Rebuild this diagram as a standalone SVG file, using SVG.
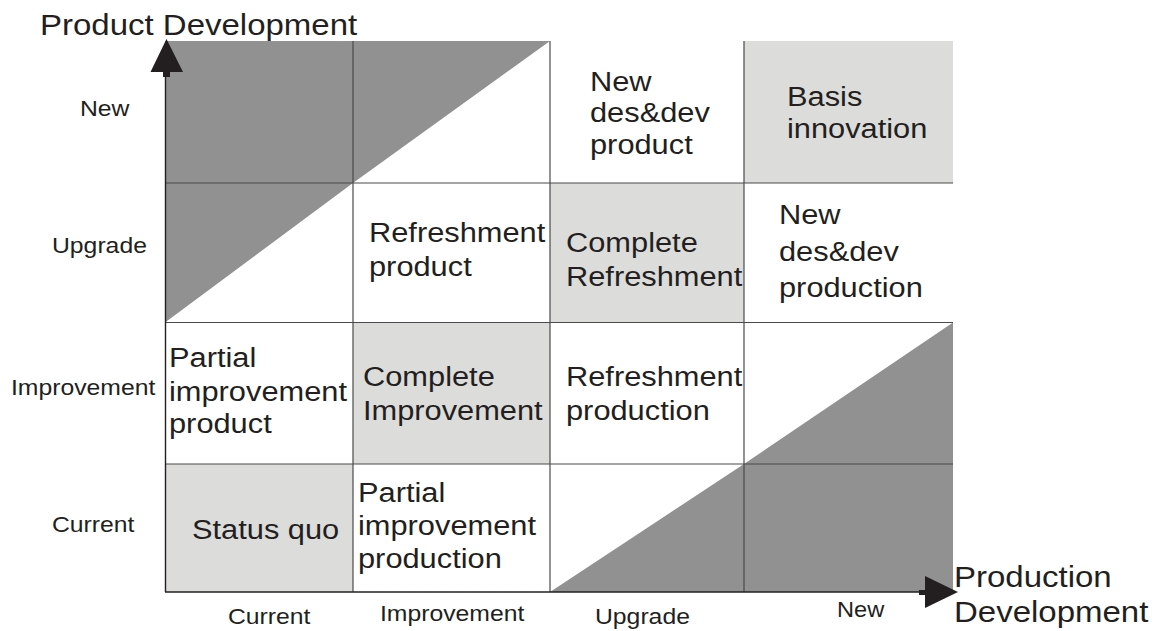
<svg xmlns="http://www.w3.org/2000/svg" width="1156" height="631" viewBox="0 0 1156 631">
  <style>
    .txt { font-family: "Liberation Sans", Arial, sans-serif; fill: #231f20; }
    .cell { font-size: 28px; }
    .axis { font-size: 22.5px; }
    .title { font-size: 30px; }
    .light { fill: #dcdcdb; }
    .dark { fill: #919191; }
    .grid { stroke: #4a4a4a; stroke-width: 1.2; fill: none; }
    .axisline { stroke: #231f20; stroke-width: 1.4; fill: none; }
    .head { fill: #231f20; }
  </style>

  <rect width="1156" height="631" fill="#ffffff"/>

  <!-- shaded cells -->
  <g id="shading">
    <rect class="light" x="744" y="41" width="209" height="142"/>
    <rect class="light" x="550" y="183" width="194" height="139.5"/>
    <rect class="light" x="353" y="322.5" width="197" height="141.5"/>
    <rect class="light" x="165" y="464" width="188" height="128"/>
    <!-- excluded combinations, top left -->
    <polygon class="dark" points="165,41 550,41 353,183 165,322.5"/>
    <!-- excluded combinations, bottom right -->
    <polygon class="dark" points="953,322.5 953,592 550,592 744,464"/>
  </g>

  <!-- grid -->
  <g id="grid" class="grid">
    <line x1="353" y1="41" x2="353" y2="592"/>
    <line x1="550" y1="41" x2="550" y2="592"/>
    <line x1="744" y1="41" x2="744" y2="592"/>
    <line x1="165" y1="183" x2="953" y2="183"/>
    <line x1="165" y1="322.5" x2="953" y2="322.5"/>
    <line x1="165" y1="464" x2="953" y2="464"/>
  </g>

  <!-- cell labels -->
  <g id="cell-new-product">
    <text class="txt cell" transform="matrix(1.1 0 0 1 590 91)"><tspan x="0" y="0">New</tspan><tspan x="0" y="31.5">des&amp;dev</tspan><tspan x="0" y="63">product</tspan></text>
  </g>
  <g id="cell-basis-innovation">
    <text class="txt cell" transform="matrix(1.1 0 0 1 787 106)"><tspan x="0" y="0">Basis</tspan><tspan x="0" y="32">innovation</tspan></text>
  </g>
  <g id="cell-refreshment-product">
    <text class="txt cell" transform="matrix(1.1 0 0 1 369 242)"><tspan x="0" y="0">Refreshment</tspan><tspan x="0" y="34">product</tspan></text>
  </g>
  <g id="cell-complete-refreshment">
    <text class="txt cell" transform="matrix(1.1 0 0 1 566 252)"><tspan x="0" y="0">Complete</tspan><tspan x="0" y="34">Refreshment</tspan></text>
  </g>
  <g id="cell-new-production">
    <text class="txt cell" transform="matrix(1.1 0 0 1 779 224)"><tspan x="0" y="0">New</tspan><tspan x="0" y="37">des&amp;dev</tspan><tspan x="0" y="73">production</tspan></text>
  </g>
  <g id="cell-partial-product">
    <text class="txt cell" transform="matrix(1.1 0 0 1 169 367)"><tspan x="0" y="0">Partial</tspan><tspan x="0" y="34">improvement</tspan><tspan x="0" y="66">product</tspan></text>
  </g>
  <g id="cell-complete-improvement">
    <text class="txt cell" transform="matrix(1.1 0 0 1 363 386)"><tspan x="0" y="0">Complete</tspan><tspan x="0" y="34">Improvement</tspan></text>
  </g>
  <g id="cell-refreshment-production">
    <text class="txt cell" transform="matrix(1.1 0 0 1 566 386)"><tspan x="0" y="0">Refreshment</tspan><tspan x="0" y="34">production</tspan></text>
  </g>
  <g id="cell-status-quo">
    <text class="txt cell" transform="matrix(1.1 0 0 1 192 539)">Status quo</text>
  </g>
  <g id="cell-partial-production">
    <text class="txt cell" transform="matrix(1.1 0 0 1 358 502)"><tspan x="0" y="0">Partial</tspan><tspan x="0" y="33">improvement</tspan><tspan x="0" y="66">production</tspan></text>
  </g>

  <!-- axis scale labels -->
  <g id="product-scale">
    <text class="txt axis" transform="matrix(1.1 0 0 1 80 116)">New</text>
    <text class="txt axis" transform="matrix(1.1 0 0 1 52 253)">Upgrade</text>
    <text class="txt axis" transform="matrix(1.1 0 0 1 11 395)">Improvement</text>
    <text class="txt axis" transform="matrix(1.1 0 0 1 52 532)">Current</text>
  </g>
  <g id="production-scale">
    <text class="txt axis" transform="matrix(1.1 0 0 1 228 624)">Current</text>
    <text class="txt axis" transform="matrix(1.1 0 0 1 380 621)">Improvement</text>
    <text class="txt axis" transform="matrix(1.1 0 0 1 595 624)">Upgrade</text>
    <text class="txt axis" transform="matrix(1.05 0 0 1 837 617)">New</text>
  </g>

  <!-- axis titles -->
  <g id="title-product">
    <text class="txt title" transform="matrix(1.1 0 0 1 40 35)">Product Development</text>
  </g>
  <g id="title-production">
    <text class="txt title" transform="matrix(1.1 0 0 1 954 587)"><tspan x="0" y="0">Production</tspan><tspan x="0" y="35">Development</tspan></text>
  </g>

  <!-- axes -->
  <g id="connectors">
    <line class="axisline" x1="165.5" y1="592" x2="165.5" y2="72"/>
    <path class="head" d="M163,77 L170,77 L170,72 L183,72 L166.5,39 L150.5,72 L163,72 Z"/>
    <line class="axisline" x1="165" y1="592" x2="920" y2="592"/>
    <path class="head" d="M919,590 L919,595 L925,595 L925,608 L958,592 L925,576 L925,590 Z"/>
  </g>
</svg>
